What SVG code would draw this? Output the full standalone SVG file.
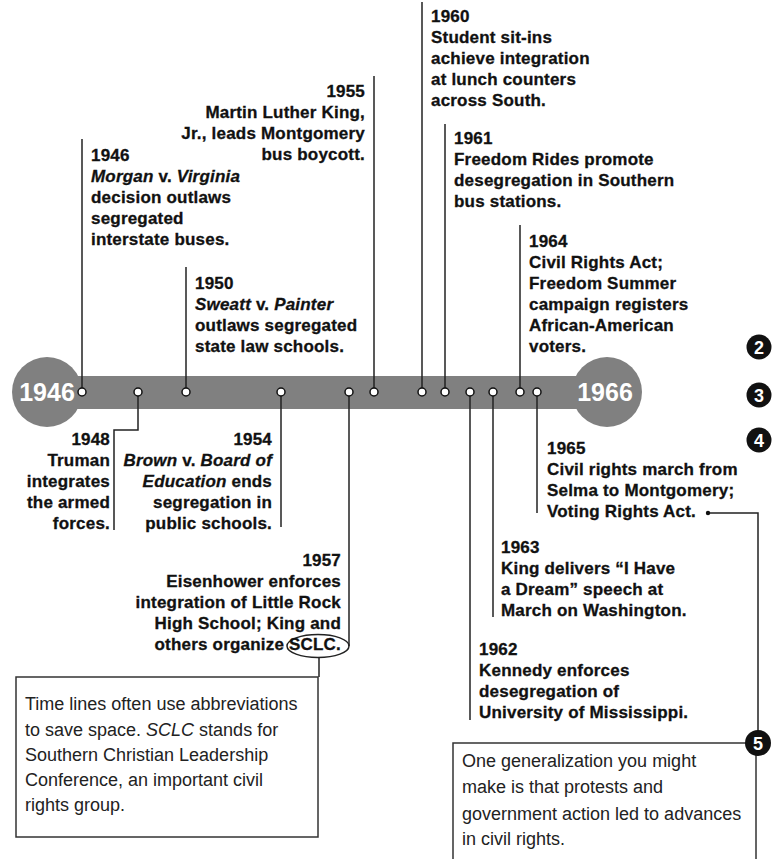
<svg xmlns="http://www.w3.org/2000/svg" width="775" height="859" viewBox="0 0 775 859">
<style>
.b{font-family:"Liberation Sans",Arial,sans-serif;font-weight:bold;font-size:17px;letter-spacing:0.2px;fill:#111;stroke:#111;stroke-width:0.3px}
.e{text-anchor:end}
.i{font-style:italic}
.r{font-family:"Liberation Sans",Arial,sans-serif;font-size:18px;fill:#222}
.yr{font-family:"Liberation Sans",Arial,sans-serif;font-weight:bold;font-size:25px;fill:#fff;text-anchor:middle}
.ln{fill:none;stroke:#222;stroke-width:1.5}
.dot{fill:#fff;stroke:#111;stroke-width:1.5}
.box{fill:#fff;stroke:#333;stroke-width:1.5}
.bd{fill:#111}
.bn{font-family:"Liberation Sans",Arial,sans-serif;font-weight:bold;font-size:18px;fill:#fff;text-anchor:middle}
</style>
<rect width="775" height="859" fill="#fff"/>
<g id="timeline">
<rect x="47" y="376" width="560" height="33" fill="#808080"/>
<circle cx="47" cy="392" r="35" fill="#808080"/>
<circle cx="607" cy="392" r="35" fill="#808080"/>
<text class="yr" x="47" y="401">1946</text>
<text class="yr" x="605" y="401">1966</text>
</g>
<g id="connectors">
<path class="ln" d="M82,139V392"/>
<path class="ln" d="M138,392V430H114V530"/>
<path class="ln" d="M186,267V392"/>
<path class="ln" d="M281,392V527"/>
<path class="ln" d="M349,392V646"/>
<path class="ln" d="M374,76V392"/>
<path class="ln" d="M422,2V392"/>
<path class="ln" d="M445,124V392"/>
<path class="ln" d="M470,392V720"/>
<path class="ln" d="M493,392V617"/>
<path class="ln" d="M520,225V392"/>
<path class="ln" d="M537,392V513"/>
<path class="ln" d="M708,513H758V731"/>
<circle cx="708" cy="513" r="2.2" fill="#111"/>
<path class="ln" d="M319,657.5V677"/>
<ellipse class="ln" cx="318" cy="646" rx="31" ry="11.5"/>
</g>
<g id="dots">
<circle class="dot" cx="82" cy="392" r="4"/>
<circle class="dot" cx="138" cy="392" r="4"/>
<circle class="dot" cx="186" cy="392" r="4"/>
<circle class="dot" cx="281" cy="392" r="4"/>
<circle class="dot" cx="349" cy="392" r="4"/>
<circle class="dot" cx="374" cy="392" r="4"/>
<circle class="dot" cx="422" cy="392" r="4"/>
<circle class="dot" cx="445" cy="392" r="4"/>
<circle class="dot" cx="470" cy="392" r="4"/>
<circle class="dot" cx="493" cy="392" r="4"/>
<circle class="dot" cx="520" cy="392" r="4"/>
<circle class="dot" cx="537" cy="392" r="4"/>
</g>
<g id="e1946">
<text class="b" x="91" y="161">1946</text>
<text class="b" x="91" y="182"><tspan class="i">Morgan</tspan> v. <tspan class="i">Virginia</tspan></text>
<text class="b" x="91" y="203">decision outlaws</text>
<text class="b" x="91" y="224">segregated</text>
<text class="b" x="91" y="245">interstate buses.</text>
</g>
<g id="e1948">
<text class="b e" x="110" y="445">1948</text>
<text class="b e" x="110" y="466">Truman</text>
<text class="b e" x="110" y="487">integrates</text>
<text class="b e" x="110" y="508">the armed</text>
<text class="b e" x="110" y="529">forces.</text>
</g>
<g id="e1950">
<text class="b" x="195" y="289">1950</text>
<text class="b" x="195" y="310"><tspan class="i">Sweatt</tspan> v. <tspan class="i">Painter</tspan></text>
<text class="b" x="195" y="331">outlaws segregated</text>
<text class="b" x="195" y="352">state law schools.</text>
</g>
<g id="e1954">
<text class="b e" x="272" y="445">1954</text>
<text class="b e" x="272" y="466"><tspan class="i">Brown</tspan> v. <tspan class="i">Board of</tspan></text>
<text class="b e" x="272" y="487"><tspan class="i">Education</tspan> ends</text>
<text class="b e" x="272" y="508">segregation in</text>
<text class="b e" x="272" y="529">public schools.</text>
</g>
<g id="e1955">
<text class="b e" x="365" y="97">1955</text>
<text class="b e" x="365" y="118">Martin Luther King,</text>
<text class="b e" x="365" y="139">Jr., leads Montgomery</text>
<text class="b e" x="365" y="160">bus boycott.</text>
</g>
<g id="e1957">
<text class="b e" x="341" y="566">1957</text>
<text class="b e" x="341" y="587">Eisenhower enforces</text>
<text class="b e" x="341" y="608">integration of Little Rock</text>
<text class="b e" x="341" y="629">High School; King and</text>
<text class="b e" x="341" y="650">others organize SCLC.</text>
</g>
<g id="e1960">
<text class="b" x="431" y="22">1960</text>
<text class="b" x="431" y="43">Student sit-ins</text>
<text class="b" x="431" y="64">achieve integration</text>
<text class="b" x="431" y="85">at lunch counters</text>
<text class="b" x="431" y="106">across South.</text>
</g>
<g id="e1961">
<text class="b" x="454" y="144">1961</text>
<text class="b" x="454" y="165">Freedom Rides promote</text>
<text class="b" x="454" y="186">desegregation in Southern</text>
<text class="b" x="454" y="207">bus stations.</text>
</g>
<g id="e1962">
<text class="b" x="479" y="655">1962</text>
<text class="b" x="479" y="676">Kennedy enforces</text>
<text class="b" x="479" y="697">desegregation of</text>
<text class="b" x="479" y="718">University of Mississippi.</text>
</g>
<g id="e1963">
<text class="b" x="501" y="553">1963</text>
<text class="b" x="501" y="574">King delivers “I Have</text>
<text class="b" x="501" y="595">a Dream” speech at</text>
<text class="b" x="501" y="616">March on Washington.</text>
</g>
<g id="e1964">
<text class="b" x="529" y="247">1964</text>
<text class="b" x="529" y="268">Civil Rights Act;</text>
<text class="b" x="529" y="289">Freedom Summer</text>
<text class="b" x="529" y="310">campaign registers</text>
<text class="b" x="529" y="331">African-American</text>
<text class="b" x="529" y="352">voters.</text>
</g>
<g id="e1965">
<text class="b" x="547" y="454">1965</text>
<text class="b" x="547" y="475">Civil rights march from</text>
<text class="b" x="547" y="496">Selma to Montgomery;</text>
<text class="b" x="547" y="517">Voting Rights Act.</text>
</g>
<g id="note1">
<rect class="box" x="16" y="677" width="302" height="160"/>
<text class="r" x="25" y="710">Time lines often use abbreviations</text>
<text class="r" x="25" y="736">to save space. <tspan class="i">SCLC</tspan> stands for</text>
<text class="r" x="25" y="761">Southern Christian Leadership</text>
<text class="r" x="25" y="786">Conference, an important civil</text>
<text class="r" x="25" y="811">rights group.</text>
</g>
<g id="note2">
<rect class="box" x="453" y="743" width="303" height="130"/>
<text class="r" x="462" y="767">One generalization you might</text>
<text class="r" x="462" y="793">make is that protests and</text>
<text class="r" x="462" y="820">government action led to advances</text>
<text class="r" x="462" y="845">in civil rights.</text>
</g>
<g id="badges">
<circle class="bd" cx="759" cy="347" r="12.5"/>
<text class="bn" x="759" y="353.5">2</text>
<circle class="bd" cx="759" cy="395" r="12.5"/>
<text class="bn" x="759" y="401.5">3</text>
<circle class="bd" cx="759" cy="440" r="12.5"/>
<text class="bn" x="759" y="446.5">4</text>
<circle class="bd" cx="758" cy="743" r="13"/>
<text class="bn" x="758" y="749.5">5</text>
</g>
</svg>
